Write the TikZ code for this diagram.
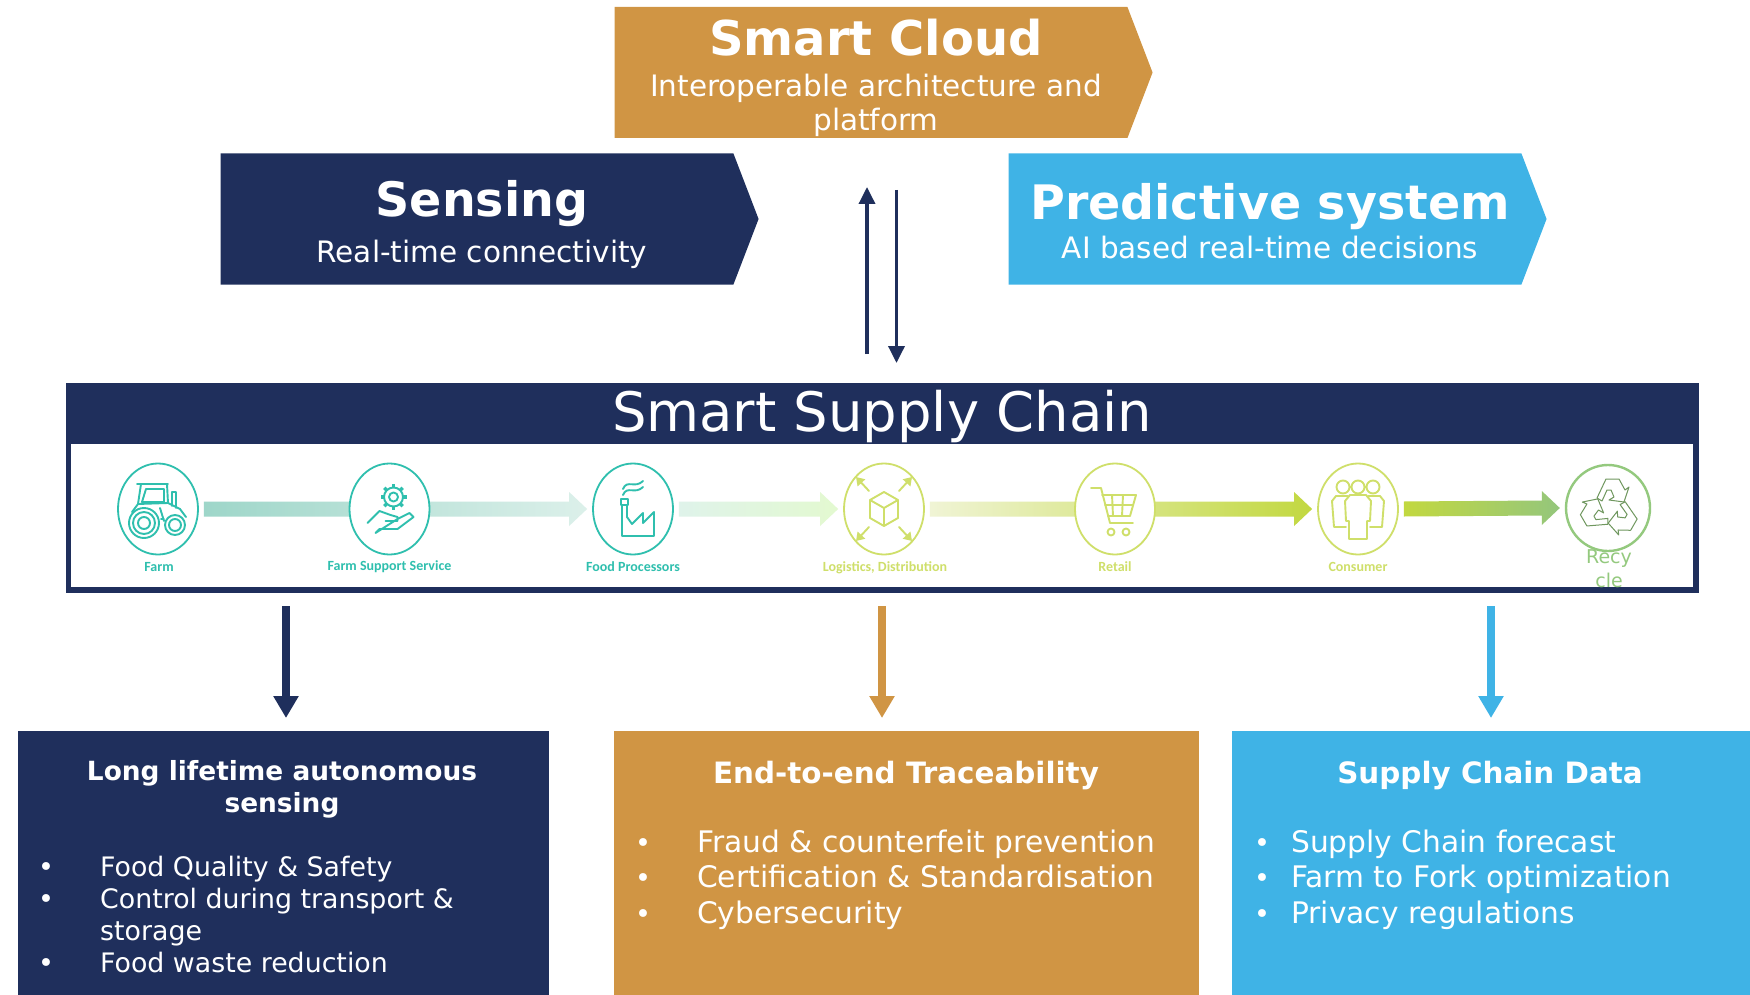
\documentclass[tikz,border=0pt]{standalone}
\usepackage{fontspec}
\setmainfont{DejaVu Sans}
\newfontfamily\labelfont{Carlito}
\usetikzlibrary{arrows.meta,shapes.symbols,shapes.geometric,calc,backgrounds}
\definecolor{navy}{HTML}{1F2F5C}
\definecolor{ochre}{HTML}{D09544}
\definecolor{sky}{HTML}{3FB3E6}
\definecolor{tealline}{HTML}{2FBFAE}
\definecolor{limeline}{HTML}{CFDF6A}
\definecolor{leafline}{HTML}{94C97E}
\definecolor{flowa}{HTML}{9ED6C9}
\definecolor{flowb}{HTML}{DCF0EA}
\definecolor{flowc}{HTML}{DFF3EA}
\definecolor{flowd}{HTML}{E3F9D0}
\definecolor{flowe}{HTML}{F0F4D5}
\definecolor{flowf}{HTML}{C2D840}
\definecolor{flowg}{HTML}{94C67C}
\newcommand{\fs}[1]{\fontsize{#1}{#1}\selectfont}
\newcommand{\flowarrow}[4]{%
  \shade[left color=#3,right color=#4] ($(#1.east)+(5,-7.5)$) -- ($(#2.west)+(-23,-7.5)$) -- ($(#2.west)+(-23,-17)$)
    -- ($(#2.west)+(-5,0)$) -- ($(#2.west)+(-23,17)$) -- ($(#2.west)+(-23,7.5)$) -- ($(#1.east)+(5,7.5)$) -- cycle;}
\tikzset{
  banner/.style={signal,signal to=east,signal from=nowhere,signal pointer angle=138,minimum height=131,inner sep=0,outer sep=0,fill=#1},
  box/.style={rectangle,inner sep=0,outer sep=0,fill=#1},
  stage/.style={ellipse,draw=#1,line width=1.8,fill=white,minimum width=80,minimum height=91,inner sep=0},
  stagelabel/.style={text=#1,font=\labelfont\bfseries\fs{14}},
  title/.style={text=white,font=\bfseries\fs{#1}},
  subtitle/.style={text=white,font=\fs{#1},align=center},
  bodytext/.style={text=white,font=\fs{#1},anchor=base west,inner sep=0},
  headtext/.style={text=white,font=\bfseries\fs{#1},align=center},
  thinflow/.style={navy,line width=3.5,-{Triangle[width=16,length=17]}},
  bigflow/.style={#1,line width=8,-{Triangle[width=24,length=22]}},
  icon/.style={draw=#1,line width=1.9,line join=round,line cap=round}
}
\begin{document}
\begin{tikzpicture}[x=1pt,y=-1pt]
\useasboundingbox (0,0) rectangle (1750,995);

% top banners
\node[banner=ochre,minimum width=538] (cloud) at (871,72.5) {};
\node[banner=navy,minimum width=538] (sensing) at (477,219) {};
\node[banner=sky,minimum width=538] (predict) at (1265,219) {};

\node[title=48] (cloudtitle) at (876,38) {Smart Cloud};
\node[subtitle=29.5] (cloudsub1) at (876,88) {Interoperable architecture and};
\node[subtitle=29.5] (cloudsub2) at (876,122) {platform};
\node[title=47.5] (sensingtitle) at (482,204) {Sensing};
\node[subtitle=29.5] (sensingsub) at (482,254) {Real-time connectivity};
\node[title=47.5] (predicttitle) at (1270,207) {Predictive system};
\node[subtitle=29.5] (predictsub) at (1270,248) {AI based real-time decisions};

% link to the chain
\coordinate (upfrom) at (867,354);
\coordinate (upto) at (867,187);
\coordinate (downfrom) at (896.5,190);
\coordinate (downto) at (896.5,363);
\draw[thinflow] (upfrom) -- (upto);
\draw[thinflow] (downfrom) -- (downto);

% stages
\node[stage=tealline] (farm) at (158,509) {};
\node[stage=tealline] (service) at (389.5,509) {};
\node[stage=tealline] (food) at (633,509) {};
\node[stage=limeline] (logistics) at (884,509) {};
\node[stage=limeline] (retail) at (1115,509) {};
\node[stage=limeline] (consumer) at (1358,509) {};
\node[stage=leafline,line width=2.4,minimum width=84,minimum height=86] (recycle) at (1608,508) {};

\begin{pgfonlayer}{background}
\node[box=navy,minimum width=1633,minimum height=210] (chain) at (882.5,488) {};
\node[box=white,minimum width=1622,minimum height=143] (chaininner) at (882,515.5) {};
\flowarrow{farm}{food}{flowa}{flowb}
\flowarrow{food}{logistics}{flowc}{flowd}
\flowarrow{logistics}{consumer}{flowe}{flowf}
\flowarrow{consumer}{recycle}{flowf}{flowg}
\end{pgfonlayer}

\node[text=white,font=\fs{54.4}] (chaintitle) at (882,416) {Smart Supply Chain};

\node[stagelabel=tealline] (farmlabel) at (159,567) {Farm};
\node[stagelabel=tealline] (servicelabel) at (389.5,567) {Farm Support Service};
\node[stagelabel=tealline] (foodlabel) at (633,567) {Food Processors};
\node[stagelabel=limeline] (logisticslabel) at (885,568) {Logistics, Distribution};
\node[stagelabel=limeline] (retaillabel) at (1115,567) {Retail};
\node[stagelabel=limeline] (consumerlabel) at (1358,567) {Consumer};
\node[text=leafline,font=\fs{19}] (recyclelabel1) at (1609,559) {Recy};
\node[text=leafline,font=\fs{19}] (recyclelabel2) at (1609,580) {cle};

% tractor
\begin{scope}[shift={(farm)}]
\draw[icon=tealline] (-14,14) circle (15) (-14,14) circle (11) (-14,14) circle (6);
\draw[icon=tealline] (17,16) circle (10) (17,16) circle (6);
\draw[icon=tealline] (-21,-25) -- (10,-25) (-17,-25) -- (-20,-5) -- (-26,3) (9,-25) -- (10,-6) -- (22,0) -- (28,8);
\draw[icon=tealline] (-12,-20) -- (6,-20) -- (6,-7) -- (-16,-7) -- cycle;
\draw[icon=tealline] (2,-1) -- (6,12) (3,10) -- (6,10) (10,-6) -- (-20,-5);
\draw[icon=tealline] (14,-3) -- (14,-17) -- (18,-17) -- (18,-1);
\end{scope}

% gear and hand
\begin{scope}[shift={(service)}]
\draw[icon=tealline] (4,-12) circle (9.5) (4,-12) circle (4.5);
\foreach \a in {0,45,...,315}
  \draw[icon=tealline,line width=3.5,line cap=butt] ($(4,-12)+(\a:9.5)$) -- ($(4,-12)+(\a:13)$);
\draw[icon=tealline] (-22,14) -- (-10,2) -- (1,6) -- (8,8) -- (8,12) -- (-4,12) (8,10) -- (20,4) -- (24,8) -- (8,20) -- (-10,20) -- (-14,24) -- cycle;
\end{scope}

% factory
\begin{scope}[shift={(food)}]
\draw[icon=tealline] (-12,-10) rectangle (-5,-4);
\draw[icon=tealline] (-11,-4) -- (-11,27) -- (21,27) -- (21,3) -- (10,14) -- (10,4) -- (-1,15) -- (-6,8) -- (-6,-4);
\draw[icon=tealline] (-10,-20) .. controls (-6,-30) and (2,-20) .. (10,-28) (-10,-14) .. controls (-6,-24) and (2,-14) .. (10,-22);
\end{scope}

% cube and arrows
\begin{scope}[shift={(logistics)}]
\draw[icon=limeline] (0,-17) -- (14,-9) -- (14,9) -- (0,17) -- (-14,9) -- (-14,-9) -- cycle (-14,-9) -- (0,-1) -- (14,-9) (0,-1) -- (0,17);
\foreach \sx/\sy in {1/1,1/-1,-1/1,-1/-1}
  \draw[icon=limeline,-{Triangle[width=10,length=8]}] (\sx*15,\sy*18) -- (\sx*28,\sy*32);
\end{scope}

% cart
\begin{scope}[shift={(retail)}]
\draw[icon=limeline] (-24,-21) -- (-14,-21) -- (-5,14) -- (18,14);
\draw[icon=limeline] (-13,-14) -- (21,-14) -- (15,7) -- (-7,7) (-10,-4) -- (18,-4) (-3,-14) -- (-2,7) (8,-14) -- (7,7);
\draw[icon=limeline] (-4,23) circle (3.5) (11,23) circle (3.5);
\end{scope}

% people
\begin{scope}[shift={(consumer)}]
\draw[icon=limeline] (-15,-22) circle (6.5) (0,-22) circle (6.5) (15,-22) circle (6.5);
\draw[icon=limeline] (-10,-13) -- (-22,-13) -- (-26,-8) -- (-24,18) -- (-12,18) (10,-13) -- (22,-13) -- (26,-8) -- (24,18) -- (12,18);
\draw[icon=limeline] (-8,-14) -- (8,-14) -- (13,-8) -- (12,12) -- (9,12) -- (9,30) -- (-9,30) -- (-9,12) -- (-12,12) -- (-13,-8) -- cycle;
\end{scope}

% recycling mark
\begin{scope}[shift={(1610,508)}]
\foreach \a in {0,120,240}
  \draw[icon=leafline!75!black,line width=1,rotate=\a] (-13,-10) -- (-4,-29) -- (9,-29) -- (15,-18) -- (19,-21) -- (14,-6) -- (-1,-8) -- (4,-11) -- (1,-18) -- (-3,-18) -- (-8,-7) -- cycle;
\end{scope}

% bottom boxes
\node[box=navy,minimum width=531,minimum height=264] (lifebox) at (283.5,863) {};
\node[box=ochre,minimum width=585,minimum height=264] (tracebox) at (906.5,863) {};
\node[box=sky,minimum width=518,minimum height=264] (databox) at (1491,863) {};

\coordinate (lifefrom) at (286,606);
\coordinate (tracefrom) at (882,606);
\coordinate (datafrom) at (1491,606);
\draw[bigflow=navy] (lifefrom) -- ($(lifefrom |- lifebox.north)+(0,-13)$);
\draw[bigflow=ochre] (tracefrom) -- ($(tracefrom |- tracebox.north)+(0,-13)$);
\draw[bigflow=sky] (datafrom) -- ($(datafrom |- databox.north)+(0,-13)$);

\node[headtext=26.4] (lifehead1) at (282,773) {Long lifetime autonomous};
\node[headtext=26.4] (lifehead2) at (282,805) {sensing};
\node[headtext=29.4] (tracehead) at (906,775) {End-to-end Traceability};
\node[headtext=29.4] (datahead) at (1490,775) {Supply Chain Data};

\foreach \name/\tx/\ty/\txt in {a/100/876/Food Quality \& Safety,b/100/908/Control during transport \&,c/100/940/storage,d/100/972/Food waste reduction}
  \node[bodytext=26.8] (item\name) at (\tx,\ty) {\txt};
\foreach \name/\tx/\ty/\txt in {e/697/852/Fraud \& counterfeit prevention,f/697/887/Certification \& Standardisation,g/697/923/Cybersecurity,h/1291/852/Supply Chain forecast,i/1291/887/Farm to Fork optimization,j/1291/923/Privacy regulations}
  \node[bodytext=29.7] (item\name) at (\tx,\ty) {\txt};
\foreach \name/\tx/\ty in {a/38/876,b/38/908,d/38/972,e/635/852,f/635/887,g/635/923,h/1254/852,i/1254/887,j/1254/923}
  \node[bodytext=27] (dot\name) at (\tx,\ty) {•};
\end{tikzpicture}
\end{document}
